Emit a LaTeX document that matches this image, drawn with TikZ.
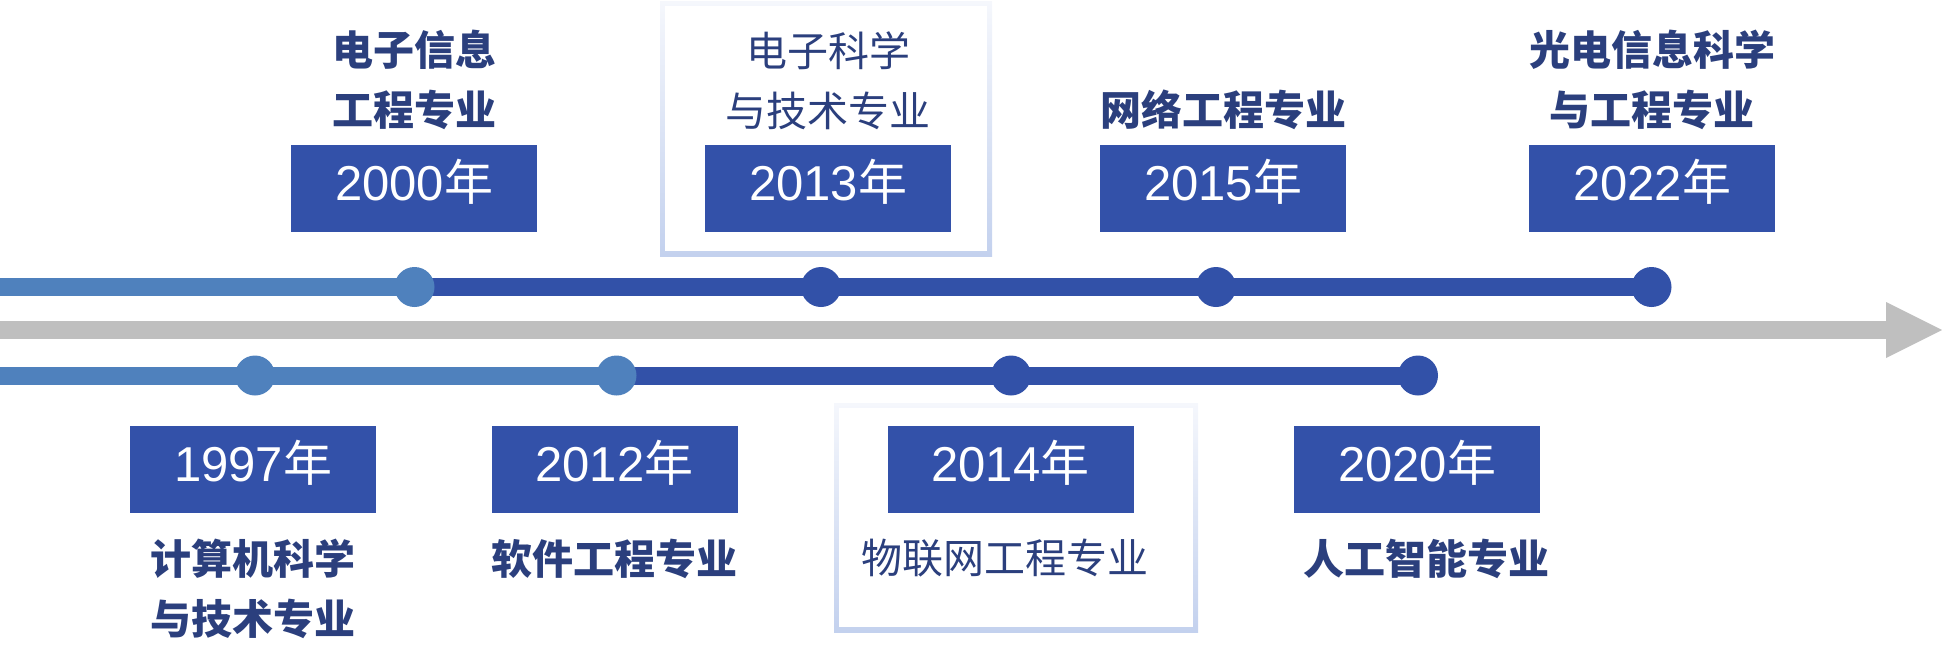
\documentclass[tikz,border=0pt]{standalone}
\usepackage{fontspec}
\setmainfont{Liberation Sans}
\newfontfamily\cjk{Noto Sans CJK SC}
\usepackage{xcolor}
\usepackage{tikz}
\usetikzlibrary{positioning,arrows.meta,backgrounds}
\definecolor{lineLight}{HTML}{4F81BD}
\definecolor{lineDark}{HTML}{3251A8}
\definecolor{boxBlue}{HTML}{3351A9}
\definecolor{axisGray}{HTML}{BFBFBF}
\definecolor{labelNavy}{HTML}{2B3F7D}
\definecolor{frameTop}{HTML}{F5F7FC}
\definecolor{frameBottom}{HTML}{C3D1EE}
\tikzset{
  yearBox/.style={
    rectangle,
    fill=boxBlue,
    text=white,
    minimum width=123pt,
    minimum height=43.5pt,
    inner sep=0pt,
    text height=17.4pt,
    text depth=5pt,
    font=\fontsize{24.5}{28}\selectfont
  },
  majorBold/.style={
    align=center,
    text=labelNavy,
    inner sep=0pt,
    font=\cjk\bfseries\fontsize{20.5}{30}\selectfont
  },
  majorThin/.style={
    majorBold,
    font=\cjk\fontsize{20.5}{30}\selectfont
  },
  yearDot/.style={
    circle,
    minimum size=20pt,
    inner sep=0pt
  },
  frameBox/.style={
    rectangle,
    top color=frameTop,
    bottom color=frameBottom,
    inner sep=0pt,
    path picture={
      \fill[white] ([shift={(2.5pt,2.5pt)}]path picture bounding box.south west)
        rectangle ([shift={(-2.5pt,-2.5pt)}]path picture bounding box.north east);
    }
  },
  timeLine/.style={
    line width=9pt
  },
  axisArrow/.style={
    axisGray,
    line width=9.3pt,
    -{Triangle[length=28pt,width=28pt,line width=0pt]}
  }
}

\begin{document}
\begin{tikzpicture}[x=0.5pt,y=-0.5pt]
  \useasboundingbox (0,0) rectangle (1942,644);

  \node[frameBox, minimum width=166pt, minimum height=127.5pt] (frame2013) at (826,128.5) {};
  \node[frameBox, minimum width=182pt, minimum height=114.5pt] (frame2014) at (1016,517.5) {};

  \node[yearBox] (y2000) at (414,188.5) {2000{\cjk 年}};
  \node[yearBox] (y2013) at (828,188.5) {2013{\cjk 年}};
  \node[yearBox] (y2015) at (1223,188.5) {2015{\cjk 年}};
  \node[yearBox] (y2022) at (1652,188.5) {2022{\cjk 年}};
  \node[yearBox] (y1997) at (253,469.5) {1997{\cjk 年}};
  \node[yearBox] (y2012) at (614.5,469.5) {2012{\cjk 年}};
  \node[yearBox] (y2014) at (1010.5,469.5) {2014{\cjk 年}};
  \node[yearBox] (y2020) at (1417,469.5) {2020{\cjk 年}};

  \node[majorBold, above=7pt of y2000] (m2000) {电子信息\\工程专业};
  \node[majorThin, above=7pt of y2013] (m2013) {电子科学\\与技术专业};
  \node[majorBold, above=7pt of y2015] (m2015) {网络工程专业};
  \node[majorBold, above=7pt of y2022] (m2022) {光电信息科学\\与工程专业};
  \node[majorBold, below=12.5pt of y1997] (m1997) {计算机科学\\与技术专业};
  \node[majorBold, below=12.5pt of y2012] (m2012) {软件工程专业};
  \node[majorThin, below=12.5pt of y2014, xshift=-3pt] (m2014) {物联网工程专业};
  \node[majorBold, below=12.5pt of y2020, xshift=4.5pt] (m2020) {人工智能专业};

  \node[yearDot, fill=lineLight] (d2000) at (414.5,287) {};
  \node[yearDot, fill=lineDark] (d2013) at (821,287) {};
  \node[yearDot, fill=lineDark] (d2015) at (1216,287) {};
  \node[yearDot, fill=lineDark] (d2022) at (1651.5,287) {};
  \node[yearDot, fill=lineLight] (d1997) at (255,375.5) {};
  \node[yearDot, fill=lineLight] (d2012) at (616.5,375.5) {};
  \node[yearDot, fill=lineDark] (d2014) at (1011,375.5) {};
  \node[yearDot, fill=lineDark] (d2020) at (1418,375.5) {};

  \coordinate (topStart) at (0,287);
  \coordinate (bottomStart) at (0,375.5);
  \coordinate (axisStart) at (0,330);
  \coordinate (axisEnd) at (1942,330);

  \begin{scope}[on background layer]
    \draw[timeLine, lineLight] (topStart) -- (d2000.center);
    \draw[timeLine, lineDark] (d2000.center) -- (d2013.center) -- (d2015.center) -- (d2022.center);
    \draw[timeLine, lineLight] (bottomStart) -- (d1997.center) -- (d2012.center);
    \draw[timeLine, lineDark] (d2012.center) -- (d2014.center) -- (d2020.center);
  \end{scope}
  \draw[axisArrow] (axisStart) -- (axisEnd);
\end{tikzpicture}
\end{document}
